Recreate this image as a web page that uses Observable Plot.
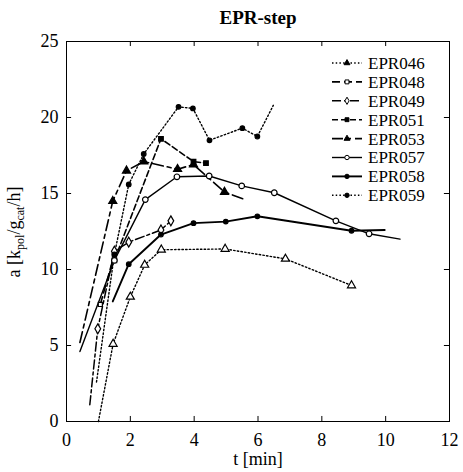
<!DOCTYPE html>
<html>
<head>
<meta charset="utf-8">
<script src="https://cdn.jsdelivr.net/npm/d3@7"></script>
<script src="https://cdn.jsdelivr.net/npm/@observablehq/plot@0.6"></script>
<style>
  html, body { margin: 0; padding: 0; background: #fff; }
  #chart { position: relative; width: 463px; height: 472px; }
  #chart svg, #chart svg text, #chart svg tspan { font-family: "Liberation Serif", "DejaVu Serif", serif !important; font-variant: normal !important; }
</style>
</head>
<body>
<div id="chart"></div>
<script>
// ---- data ----
const seriesNames = ["EPR046", "EPR048", "EPR049", "EPR051", "EPR053", "EPR057", "EPR058", "EPR059"];

const epr046T = [1.0, 1.46, 2.0, 2.45, 2.97, 4.97, 6.86, 8.93];
const epr046A = [0.0, 5.1, 8.2, 10.3, 11.3, 11.35, 10.7, 8.95];
const epr046M = [0, 1, 1, 1, 1, 1, 1, 1];

const epr048T = [1.06, 1.5];
const epr048A = [7.7, 11.0];
const epr048M = [1, 1];

const epr049T = [0.73, 0.98, 1.5, 1.95, 2.96, 3.27];
const epr049A = [1.1, 6.1, 11.2, 11.8, 12.6, 13.2];
const epr049M = [0, 1, 1, 1, 1, 1];

const epr051T = [1.5, 2.96, 3.98, 4.37];
const epr051A = [10.6, 18.6, 17.1, 17.0];
const epr051M = [1, 1, 1, 1];

const epr053T = [0.42, 1.45, 1.88, 2.42, 3.48, 3.98, 4.95, 5.6];
const epr053A = [5.2, 14.5, 16.5, 17.1, 16.6, 16.9, 15.1, 14.6];
const epr053M = [0, 1, 1, 1, 1, 1, 1, 0];

const epr057T = [0.42, 1.5, 2.47, 3.46, 4.47, 5.49, 6.51, 8.44, 9.48, 10.45];
const epr057A = [4.6, 10.6, 14.6, 16.1, 16.15, 15.5, 15.05, 13.2, 12.35, 12.0];
const epr057M = [0, 1, 1, 1, 1, 1, 1, 1, 1, 0];

const epr058T = [1.45, 1.95, 2.96, 3.98, 4.99, 5.98, 8.93, 9.97];
const epr058A = [7.9, 10.35, 12.3, 13.05, 13.15, 13.5, 12.55, 12.6];
const epr058M = [0, 1, 1, 1, 1, 1, 1, 0];

const epr059T = [0.94, 1.5, 1.95, 2.42, 3.51, 3.96, 4.48, 5.51, 5.98, 6.48];
const epr059A = [2.6, 11.0, 15.6, 17.6, 20.7, 20.6, 18.5, 19.3, 18.75, 20.8];
const epr059M = [0, 1, 1, 1, 1, 1, 1, 1, 1, 0];

const xTicks = [0, 2, 4, 6, 8, 10, 12];
const yTicks = [0, 5, 10, 15, 20, 25];

// ---- styles (not data) ----
const styles = {
  EPR046: {dash: "1.5,2.2", width: 1.4, symbol: "triangle", fill: "white", r: 3},
  EPR048: {dash: "8,4", width: 1.6, symbol: "square", fill: "white", r: 2.3},
  EPR049: {dash: "9,3,3,3", width: 1.5, symbol: "diamond", fill: "white", r: 3},
  EPR051: {dash: "6,3", width: 1.6, symbol: "square", fill: "black", r: 2.6},
  EPR053: {dash: "11,4,4,4", width: 1.6, symbol: "triangle", fill: "black", r: 3},
  EPR057: {dash: null, width: 1.4, symbol: "circle", fill: "white", r: 2.8},
  EPR058: {dash: null, width: 1.9, symbol: "circle", fill: "black", r: 2.3},
  EPR059: {dash: "1.5,2.2", width: 1.4, symbol: "circle", fill: "black", r: 2.3}
};

const raw = {
  EPR046: [epr046T, epr046A, epr046M],
  EPR048: [epr048T, epr048A, epr048M],
  EPR049: [epr049T, epr049A, epr049M],
  EPR051: [epr051T, epr051A, epr051M],
  EPR053: [epr053T, epr053A, epr053M],
  EPR057: [epr057T, epr057A, epr057M],
  EPR058: [epr058T, epr058A, epr058M],
  EPR059: [epr059T, epr059A, epr059M]
};

const series = seriesNames.map(name => {
  const [T, A, M] = raw[name];
  return {name, pts: T.map((t, i) => ({t, a: A[i], m: M[i]}))};
});

const marks = [
  Plot.frame({stroke: "black", strokeWidth: 1})
];
for (const s of series) {
  const st = styles[s.name];
  marks.push(Plot.line(s.pts, {x: "t", y: "a", stroke: "black", strokeWidth: st.width, strokeDasharray: st.dash}));
}
for (const s of series) {
  const st = styles[s.name];
  marks.push(Plot.dot(s.pts.filter(d => d.m), {x: "t", y: "a", symbol: () => st.symbol, r: st.r, fill: st.fill, stroke: "black", strokeWidth: 1.2}));
}
marks.push(
  Plot.axisX({anchor: "bottom", ticks: xTicks, tickSize: 0, tickPadding: 12, fontSize: 18, label: null}),
  Plot.axisY({anchor: "left", ticks: yTicks, tickSize: 0, tickPadding: 8, fontSize: 18, label: null}),
  Plot.ruleX(xTicks, {x: d => d, y1: 0, y2: 0.33, stroke: "black"}),
  Plot.ruleX(xTicks, {x: d => d, y1: 24.67, y2: 25, stroke: "black"}),
  Plot.ruleY(yTicks, {y: d => d, x1: 0, x2: 0.16, stroke: "black"}),
  Plot.ruleY(yTicks, {y: d => d, x1: 11.84, x2: 12, stroke: "black"})
);

const plot = Plot.plot({
  width: 463,
  height: 472,
  marginLeft: 66,
  marginRight: 14,
  marginTop: 41,
  marginBottom: 51,
  x: {domain: [0, 12]},
  y: {domain: [0, 25]},
  style: {fontFamily: "'Liberation Serif', serif", color: "black", background: "white"},
  marks
});

document.getElementById("chart").appendChild(plot);

// ---- titles and legend (annotations) ----
const svg = d3.select(plot);
const serif = "'Liberation Serif', serif";
svg.append("text")
  .attr("x", 258).attr("y", 24)
  .attr("text-anchor", "middle")
  .attr("font-weight", "bold").attr("font-size", 19)
  .style("font-family", serif)
  .text("EPR-step");

svg.append("text")
  .attr("x", 258).attr("y", 465)
  .attr("text-anchor", "middle")
  .attr("font-size", 18)
  .style("font-family", serif)
  .text("t [min]");

const yl = svg.append("text")
  .attr("transform", "translate(20,232) rotate(-90)")
  .attr("text-anchor", "middle")
  .attr("font-size", 18)
  .style("font-family", serif);
yl.append("tspan").text("a [k");
yl.append("tspan").attr("font-size", 12).attr("dy", 4).text("pol");
yl.append("tspan").attr("dy", -4).text("/g");
yl.append("tspan").attr("font-size", 12).attr("dy", 4).text("cat");
yl.append("tspan").attr("dy", -4).text("/h]");

const lg = svg.append("g").attr("font-size", 17).attr("text-anchor", "start").style("font-family", serif);
seriesNames.forEach((name, i) => {
  const st = styles[name];
  const y = 63 + i * 18.9;
  lg.append("line").attr("x1", 332).attr("x2", 362).attr("y1", y).attr("y2", y)
    .attr("stroke", "black").attr("stroke-width", st.width)
    .attr("stroke-dasharray", st.dash);
  const sym = d3.symbol().type({triangle: d3.symbolTriangle, square: d3.symbolSquare, diamond: d3.symbolDiamond, circle: d3.symbolCircle}[st.symbol]).size(Math.PI * 2.2 * 2.2);
  lg.append("path").attr("d", sym()).attr("transform", `translate(347,${y})`)
    .attr("fill", name === "EPR046" ? "black" : st.fill).attr("stroke", "black").attr("stroke-width", 1);
  lg.append("text").attr("x", 368).attr("y", y).attr("dy", "0.35em")
    .attr("text-anchor", "start").text(name);
});
</script>
</body>
</html>
